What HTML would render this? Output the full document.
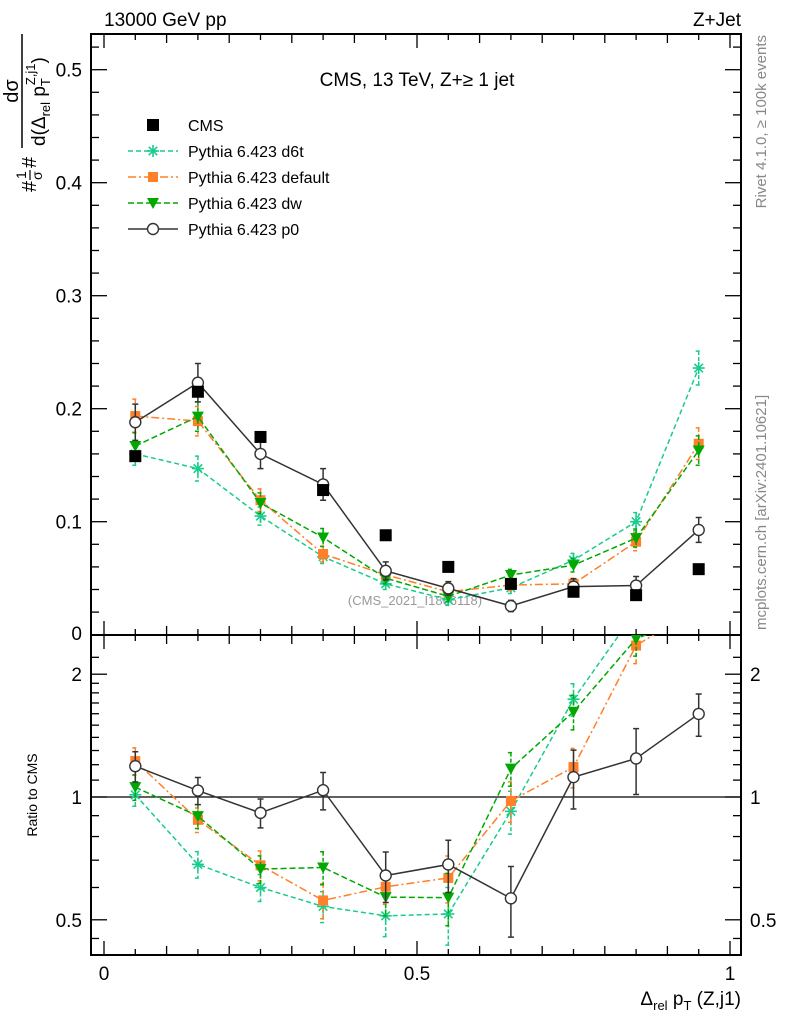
<!DOCTYPE html>
<html><head><meta charset="utf-8"><style>
body{margin:0;background:#fff;}
svg{display:block;font-family:"Liberation Sans",Arial,sans-serif;}
</style></head><body>
<svg id="chart" width="786" height="1024" viewBox="0 0 786 1024" xmlns="http://www.w3.org/2000/svg">
<defs>
<clipPath id="clipMain"><rect x="91" y="34" width="650" height="601"/></clipPath>
<clipPath id="clipRatio"><rect x="91" y="635" width="650" height="320"/></clipPath>
</defs>
<text x="104" y="26" font-size="19">13000 GeV pp</text>
<text x="741" y="26" font-size="19" text-anchor="end">Z+Jet</text>
<text x="417" y="86" font-size="19" text-anchor="middle">CMS, 13 TeV, Z+≥ 1 jet</text>
<text transform="translate(766,35) rotate(-90)" font-size="15" fill="#888" text-anchor="end">Rivet 4.1.0, ≥ 100k events</text>
<text transform="translate(766,630) rotate(-90)" font-size="15" fill="#888">mcplots.cern.ch [arXiv:2401.10621]</text>
<text x="415" y="605" font-size="13" fill="#999" text-anchor="middle">(CMS_2021_I1866118)</text>
<g transform="translate(40,192) rotate(-90)">
<text x="0" y="-4" font-size="20">#</text>
<text x="13" y="-14" font-size="14">1</text>
<line x1="12" y1="-10" x2="22" y2="-10" stroke="#000" stroke-width="1.2"/>
<text x="12" y="2" font-size="14">σ</text>
<text x="24" y="-4" font-size="20">#</text>
<line x1="44" y1="-18" x2="158" y2="-18" stroke="#000" stroke-width="1.5"/>
<text x="101" y="-22" font-size="20" text-anchor="middle">dσ</text>
<text x="46" y="5" font-size="19">d(Δ<tspan font-size="13" dy="5">rel</tspan><tspan dy="-5"> p</tspan><tspan font-size="13" dy="5">T</tspan><tspan font-size="13" dx="-7" dy="-15">Z,j1</tspan><tspan dy="10">)</tspan></text>
</g>
<text transform="translate(37,795) rotate(-90)" font-size="14" text-anchor="middle">Ratio to CMS</text>
<text x="741" y="1005" font-size="19" text-anchor="end">Δ<tspan font-size="13" dy="5">rel</tspan><tspan dy="-5"> p</tspan><tspan font-size="13" dy="5">T</tspan><tspan dy="-5"> (Z,j1)</tspan></text>
<g id="axes"></g>
<g id="mainMarks" clip-path="url(#clipMain)"></g>
<g id="ratioMarks" clip-path="url(#clipRatio)"></g>
<g id="legend"></g>
</svg>
<script>
const xCenters=[0.05,0.15,0.25,0.35,0.45,0.55,0.65,0.75,0.85,0.95];
const cmsVals=[0.158,0.215,0.175,0.128,0.088,0.060,0.045,0.038,0.035,0.058];
const d6tVals=[0.160,0.147,0.105,0.069,0.045,0.031,0.0415,0.066,0.100,0.236];
const d6tErr=[0.010,0.011,0.008,0.006,0.005,0.005,0.005,0.006,0.008,0.015];
const defVals=[0.1935,0.189,0.119,0.0714,0.053,0.038,0.044,0.045,0.0823,0.169];
const defErr=[0.015,0.013,0.010,0.007,0.005,0.005,0.005,0.005,0.008,0.014];
const dwVals=[0.167,0.193,0.1165,0.086,0.050,0.034,0.0528,0.0615,0.0855,0.163];
const dwErr=[0.012,0.013,0.009,0.008,0.005,0.005,0.005,0.006,0.008,0.013];
const p0Vals=[0.188,0.223,0.160,0.133,0.0565,0.041,0.0254,0.0425,0.0435,0.0927];
const p0Err=[0.016,0.017,0.013,0.014,0.008,0.006,0.005,0.007,0.008,0.011];
const yTicks=[0.1,0.2,0.3,0.4,0.5];
const ratioTicks=[0.5,1,2];
const xTickLabels=[0,0.5,1];

const NS="http://www.w3.org/2000/svg";
const X=v=>104+626*v;
const Y=v=>634.7-1130*v;
const R=v=>797-122.8*Math.log2(v);
function mk(tag,attrs,parent){const e=document.createElementNS(NS,tag);for(const k in attrs)e.setAttribute(k,attrs[k]);parent.appendChild(e);return e;}
const axes=document.getElementById('axes');
let f1=mk('rect',{x:91,y:34,width:650,height:601,fill:'none',stroke:'#000','stroke-width':2},axes);


let f2=mk('rect',{x:91,y:635,width:650,height:320,fill:'none',stroke:'#000','stroke-width':2},axes);


for(let i=0;i<=20;i++){const v=i*0.05;const x=X(v);const len=(i%10==0)?14:(i%2==0?9:6);
 for(const [yb,yt] of [[635,34],[955,635]]){
  mk('line',{x1:x,y1:yb,x2:x,y2:yb-len,stroke:'#000','stroke-width':1.3},axes);
  mk('line',{x1:x,y1:yt,x2:x,y2:yt+len,stroke:'#000','stroke-width':1.3},axes);
 }}
xTickLabels.forEach(v=>{let t=mk('text',{x:X(v),y:980,'font-size':19,'text-anchor':'middle'},axes);t.textContent=String(v);
 
 });
for(let i=1;i<=26;i++){const v=i*0.02;const y=Y(v);if(y<34)break;const len=(i%5==0)?16:8;
 mk('line',{x1:91,y1:y,x2:91+len,y2:y,stroke:'#000','stroke-width':1.3},axes);
 mk('line',{x1:741,y1:y,x2:741-len,y2:y,stroke:'#000','stroke-width':1.3},axes);}
yTicks.forEach(v=>{let t=mk('text',{x:82,y:Y(v)+7,'font-size':19,'text-anchor':'end'},axes);t.textContent=String(v);
 
 });
let z=mk('text',{x:82,y:640,'font-size':19,'text-anchor':'end'},axes);z.textContent='0';
[0.45,0.5,0.6,0.7,0.8,0.9,1,1.1,1.2,1.3,1.4,1.5,1.6,1.7,1.8,1.9,2,2.2].forEach(v=>{const y=R(v);if(y<636||y>954)return;const len=(v==0.5||v==1||v==2)?16:8;
 mk('line',{x1:91,y1:y,x2:91+len,y2:y,stroke:'#000','stroke-width':1.3},axes);
 mk('line',{x1:741,y1:y,x2:741-len,y2:y,stroke:'#000','stroke-width':1.3},axes);});
ratioTicks.forEach(v=>{let t=mk('text',{x:82,y:R(v)+7,'font-size':19,'text-anchor':'end'},axes);t.textContent=String(v);
 
 
 let t2=mk('text',{x:750,y:R(v)+7,'font-size':19},axes);t2.textContent=String(v);
 
 });
let ref=mk('line',{x1:91,y1:R(1),x2:741,y2:R(1),stroke:'#000','stroke-width':1.3},axes);



function marker(g,type,x,y,col){
 if(type=='sq')mk('rect',{x:x-6,y:y-6,width:12,height:12,fill:'#000'},g);
 else if(type=='osq')mk('rect',{x:x-5,y:y-5,width:10,height:10,fill:col},g);
 else if(type=='tri')mk('path',{d:`M${x-6},${y-5}L${x+6},${y-5}L${x},${y+6}Z`,fill:col},g);
 else if(type=='circ')mk('circle',{cx:x,cy:y,r:5.5,fill:'#fff',stroke:col,'stroke-width':1.4},g);
 else if(type=='star'){for(let a=0;a<4;a++){const an=a*Math.PI/4;mk('line',{x1:x-6*Math.cos(an),y1:y-6*Math.sin(an),x2:x+6*Math.cos(an),y2:y+6*Math.sin(an),stroke:col,'stroke-width':1.6},g);}}
}
const series=[
 {name:'d6t',vals:d6tVals,err:d6tErr,col:'#19cc8c',dash:'5,3',m:'star'},
 {name:'default',vals:defVals,err:defErr,col:'#ff7f2a',dash:'8,3,2,3',m:'osq'},
 {name:'dw',vals:dwVals,err:dwErr,col:'#00a800',dash:'6,3',m:'tri'},
 {name:'p0',vals:p0Vals,err:p0Err,col:'#333',dash:'',m:'circ'}
];
const mainG=document.getElementById('mainMarks');
const ratG=document.getElementById('ratioMarks');
series.forEach(s=>{
 [[mainG,i=>Y(s.vals[i]),i=>Y(s.vals[i]+s.err[i]),i=>Y(Math.max(s.vals[i]-s.err[i],0.0001)),'main'],
  [ratG,i=>R(s.vals[i]/cmsVals[i]),i=>R((s.vals[i]+s.err[i])/cmsVals[i]),i=>R(Math.max(s.vals[i]-s.err[i],0.001)/cmsVals[i]),'ratio']].forEach(([par,fy,fyh,fyl,tag])=>{
  const g=mk('g',{},par);
  
  
  const pts=xCenters.map((x,i)=>X(x)+','+fy(i)).join(' ');
  const pl=mk('polyline',{points:pts,fill:'none',stroke:s.col,'stroke-width':1.5},g);
  if(s.dash)pl.setAttribute('stroke-dasharray',s.dash);
  xCenters.forEach((x,i)=>{const xx=X(x);
   const eb=mk('path',{d:`M${xx},${fyh(i)}V${fyl(i)}M${xx-3},${fyh(i)}h6M${xx-3},${fyl(i)}h6`,stroke:s.col,'stroke-width':1.5,fill:'none'},g);
   if(s.dash)eb.setAttribute('stroke-dasharray','4,2');
   marker(g,s.m,xx,fy(i),s.col);});
 });
});
const cg=mk('g',{},mainG);


xCenters.forEach((x,i)=>marker(cg,'sq',X(x),Y(cmsVals[i]),'#000'));
const lg=document.getElementById('legend');
const entries=[['CMS',null],['Pythia 6.423 d6t',series[0]],['Pythia 6.423 default',series[1]],['Pythia 6.423 dw',series[2]],['Pythia 6.423 p0',series[3]]];
entries.forEach((e,k)=>{const y=125+26*k;
 const g=mk('g',{},lg);
 
 
 if(e[1]){const l=mk('line',{x1:128,y1:y,x2:178,y2:y,stroke:e[1].col,'stroke-width':1.5},g);if(e[1].dash)l.setAttribute('stroke-dasharray',e[1].dash);marker(g,e[1].m,153,y,e[1].col);}
 else marker(g,'sq',153,y,'#000');
 const t=mk('text',{x:188,y:y+6,'font-size':16},g);t.textContent=e[0];});
</script>
</body></html>
